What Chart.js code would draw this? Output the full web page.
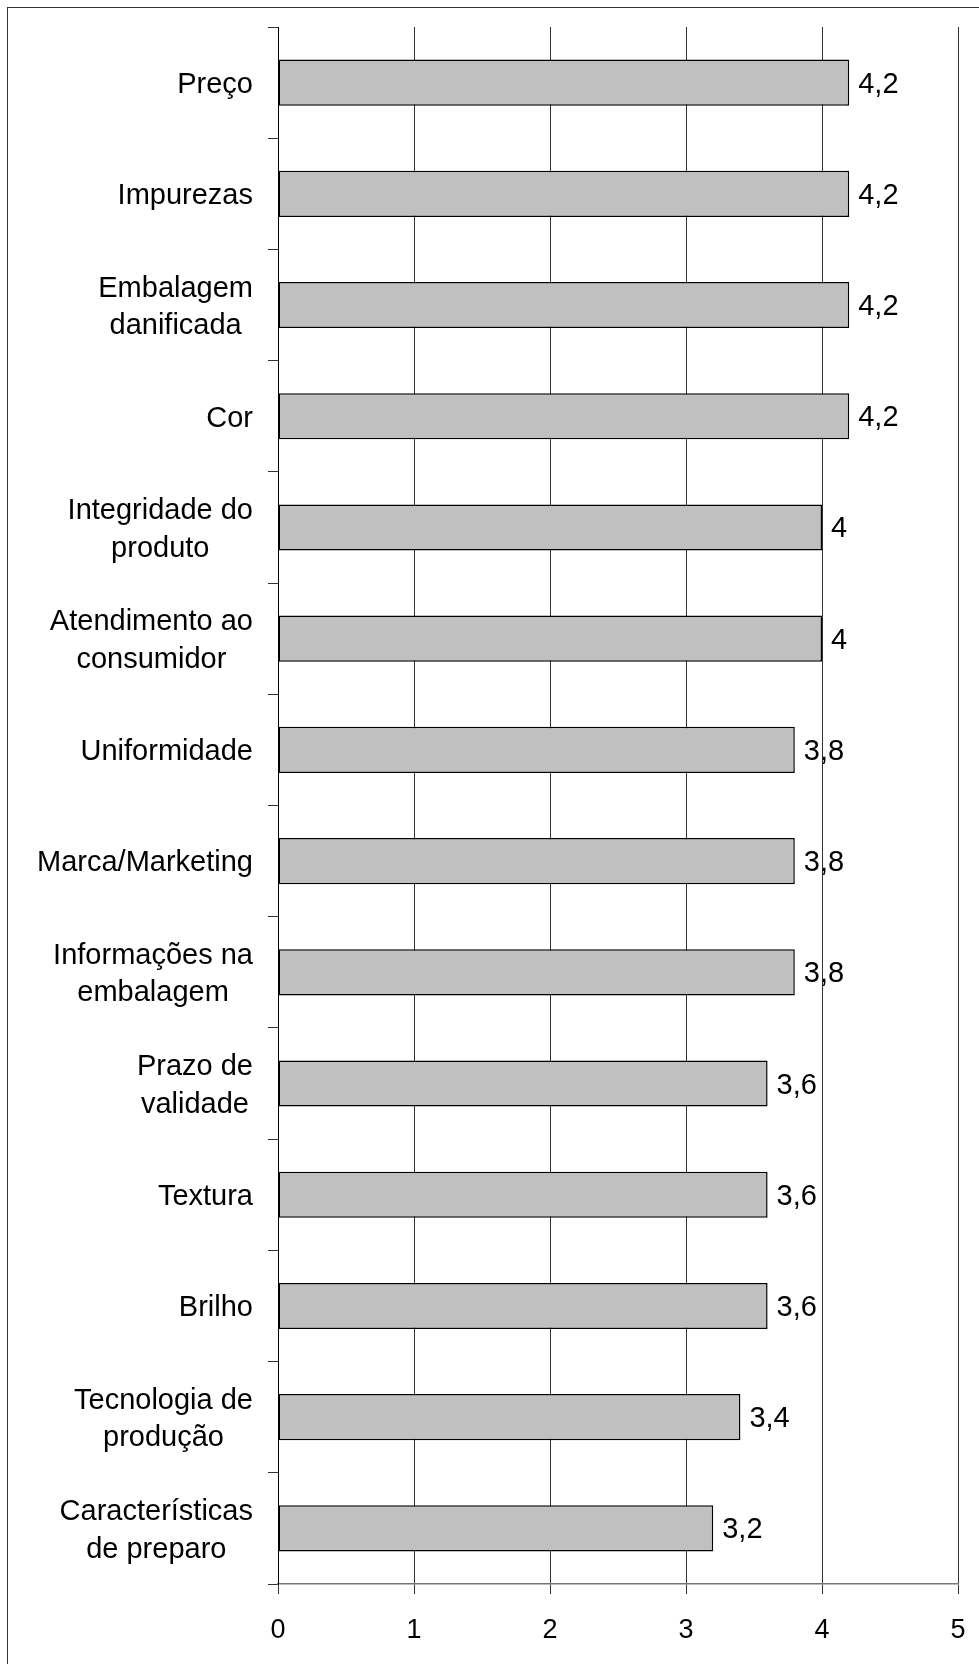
<!DOCTYPE html>
<html>
<head>
<meta charset="utf-8">
<script src="https://cdn.jsdelivr.net/npm/chart.js@4"></script>
<style>
  html, body { margin: 0; padding: 0; background: #fff; }
  canvas { display: block; }
</style>
</head>
<body>
<canvas id="barChart" width="979" height="1664"></canvas>
<script>
// categories (top to bottom), multi-line where the original wraps
const categories = [
    ['Preço'],
    ['Impurezas'],
    ['Embalagem', 'danificada'],
    ['Cor'],
    ['Integridade do', 'produto'],
    ['Atendimento ao', 'consumidor'],
    ['Uniformidade'],
    ['Marca/Marketing'],
    ['Informações na', 'embalagem'],
    ['Prazo de', 'validade'],
    ['Textura'],
    ['Brilho'],
    ['Tecnologia de', 'produção'],
    ['Características', 'de preparo']
];
const scores = [4.2, 4.2, 4.2, 4.2, 4, 4, 3.8, 3.8, 3.8, 3.6, 3.6, 3.6, 3.4, 3.2];
const xTicks = [0, 1, 2, 3, 4, 5];

const FONT = '"Liberation Sans", Arial, sans-serif';
Chart.defaults.font.family = FONT;
Chart.defaults.color = '#000';

// outer frame + white background
const framePlugin = {
    id: 'frame',
    beforeDraw(chart) {
        const c = chart.ctx;
        c.save();
        c.fillStyle = '#fff';
        c.fillRect(0, 0, chart.width, chart.height);
        c.strokeStyle = '#333';
        c.lineWidth = 1;
        c.strokeRect(7.5, 7.5, chart.width + 20, chart.height + 20);
        c.restore();
    }
};

// category labels: block right-aligned, lines centered inside the block
const yLabelPlugin = {
    id: 'yLabels',
    afterDraw(chart) {
        const c = chart.ctx;
        const yScale = chart.scales.y;
        const size = 29, lineH = 37.5;
        const rightEdge = yScale.right - 25;
        c.save();
        c.font = size + 'px ' + FONT;
        c.fillStyle = '#000';
        c.textAlign = 'center';
        c.textBaseline = 'alphabetic';
        chart.data.labels.forEach((lines, i) => {
            const mid = yScale.getPixelForValue(i);
            const w = Math.max(...lines.map(t => c.measureText(t).width));
            const cx = rightEdge - w / 2;
            lines.forEach((t, k) => {
                const y = mid + size * 0.358 + (k - (lines.length - 1) / 2) * lineH;
                c.fillText(t, cx, y);
            });
        });
        c.restore();
    }
};

// value labels at bar ends, decimal comma
const valuePlugin = {
    id: 'values',
    afterDatasetsDraw(chart) {
        const c = chart.ctx;
        const meta = chart.getDatasetMeta(0);
        c.save();
        c.font = '29px ' + FONT;
        c.fillStyle = '#000';
        c.textAlign = 'left';
        c.textBaseline = 'alphabetic';
        meta.data.forEach((bar, i) => {
            const txt = String(chart.data.datasets[0].data[i]).replace('.', ',');
            c.fillText(txt, bar.x + 9, bar.y + 10);
        });
        c.restore();
    }
};

const ctx = document.getElementById('barChart').getContext('2d');
const barChart = new Chart(ctx, {
    type: 'bar',
    data: {
        labels: categories,
        datasets: [{
            data: scores,
            backgroundColor: '#c0c0c0',
            borderColor: '#000',
            borderWidth: 1.5,
            borderSkipped: false,
            categoryPercentage: 1,
            barPercentage: 0.415
        }]
    },
    options: {
        indexAxis: 'y',
        responsive: false,
        animation: false,
        devicePixelRatio: 1,
        layout: {
            padding: { top: 27, right: 21, left: 0, bottom: 0 }
        },
        plugins: {
            legend: { display: false },
            tooltip: { enabled: false }
        },
        scales: {
            x: {
                min: 0,
                max: 5,
                afterBuildTicks: scale => {
                    scale.ticks = xTicks.map(v => ({ value: v }));
                },
                afterFit: scale => {
                    scale.height = 80;
                    scale.paddingLeft = 0;
                    scale.paddingRight = 0;
                },
                grid: {
                    color: '#333',
                    lineWidth: 1,
                    drawTicks: true,
                    tickLength: 10,
                    tickColor: '#333'
                },
                border: { color: '#777', width: 1.5 },
                ticks: {
                    font: { size: 27 },
                    color: '#000',
                    padding: 20
                }
            },
            y: {
                offset: true,
                afterFit: scale => { scale.width = 278; },
                grid: {
                    offset: true,
                    drawOnChartArea: false,
                    drawTicks: true,
                    tickLength: 10,
                    tickColor: '#333'
                },
                border: { color: '#000', width: 1 },
                ticks: { display: false }
            }
        }
    },
    plugins: [framePlugin, yLabelPlugin, valuePlugin]
});
</script>
</body>
</html>
